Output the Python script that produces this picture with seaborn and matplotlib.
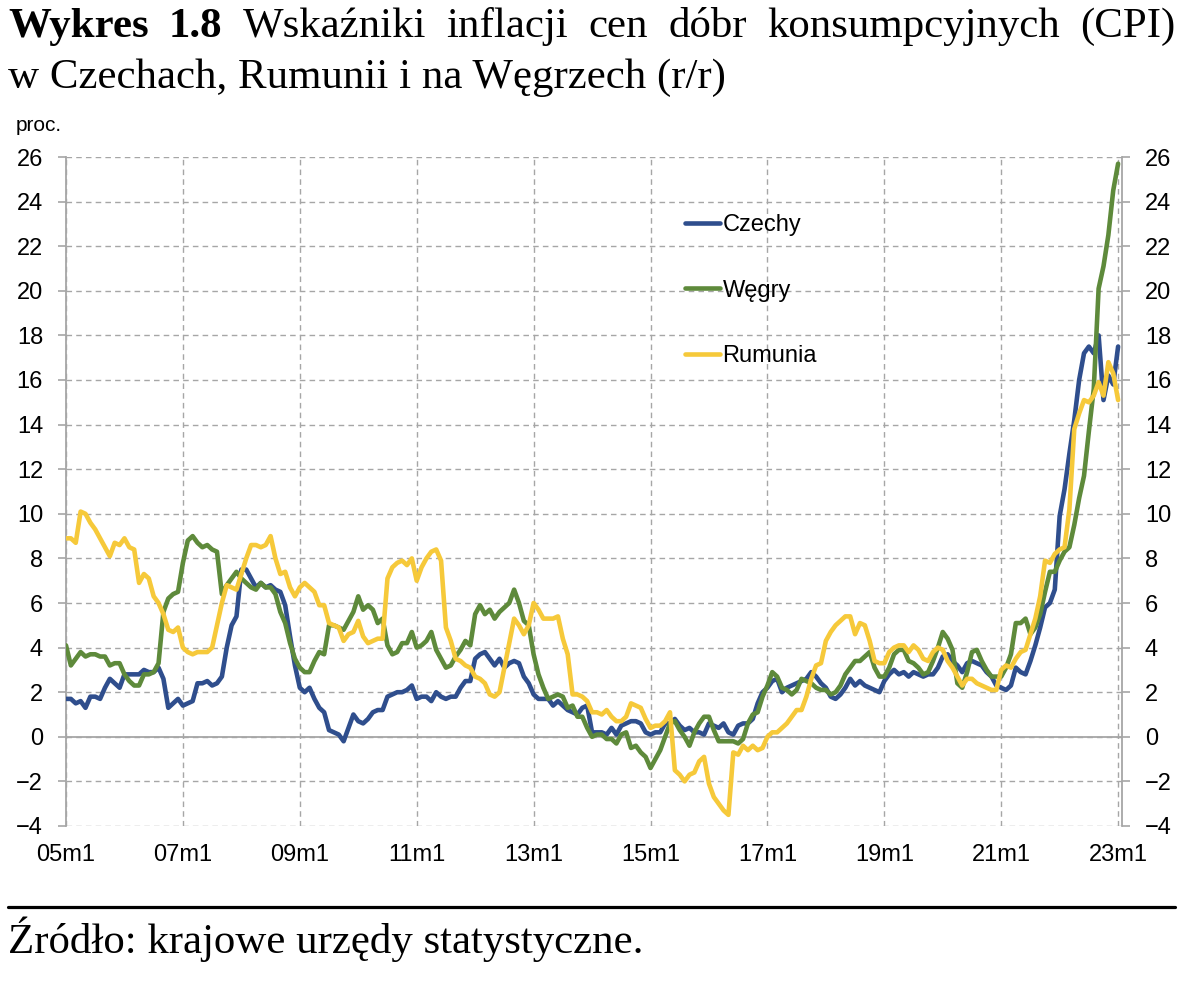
import numpy as np
import pandas as pd
import matplotlib
matplotlib.use("Agg")
import matplotlib.pyplot as plt
import seaborn as sns

# CPI r/r, monthly 2005m1 - 2023m1
czechy = [
    1.7, 1.7, 1.5, 1.6, 1.3, 1.8, 1.8, 1.7, 2.2, 2.6, 2.4, 2.2,        # 2005
    2.8, 2.8, 2.8, 2.8, 3.0, 2.9, 2.9, 3.1, 2.6, 1.3, 1.5, 1.7,        # 2006
    1.4, 1.5, 1.6, 2.4, 2.4, 2.5, 2.3, 2.4, 2.7, 4.0, 5.0, 5.4,        # 2007
    7.5, 7.5, 7.1, 6.7, 6.9, 6.7, 6.8, 6.6, 6.5, 5.9, 4.5, 3.2,        # 2008
    2.2, 2.0, 2.2, 1.7, 1.3, 1.1, 0.3, 0.2, 0.1, -0.2, 0.4, 1.0,       # 2009
    0.7, 0.6, 0.8, 1.1, 1.2, 1.2, 1.8, 1.9, 2.0, 2.0, 2.1, 2.3,        # 2010
    1.7, 1.8, 1.8, 1.6, 2.0, 1.8, 1.7, 1.8, 1.8, 2.2, 2.5, 2.5,        # 2011
    3.5, 3.7, 3.8, 3.5, 3.2, 3.5, 3.1, 3.3, 3.4, 3.3, 2.7, 2.4,        # 2012
    1.9, 1.7, 1.7, 1.7, 1.4, 1.6, 1.4, 1.2, 1.1, 1.0, 1.3, 1.4,        # 2013
    0.2, 0.2, 0.2, 0.1, 0.4, 0.1, 0.5, 0.6, 0.7, 0.7, 0.6, 0.2,        # 2014
    0.1, 0.2, 0.2, 0.6, 0.6, 0.8, 0.5, 0.3, 0.4, 0.2, 0.2, 0.1,        # 2015
    0.6, 0.5, 0.4, 0.6, 0.2, 0.1, 0.5, 0.6, 0.6, 0.8, 1.5, 2.0,        # 2016
    2.2, 2.5, 2.6, 2.0, 2.2, 2.3, 2.4, 2.5, 2.6, 2.9, 2.7, 2.4,        # 2017
    2.2, 1.8, 1.7, 1.9, 2.2, 2.6, 2.3, 2.5, 2.3, 2.2, 2.1, 2.0,        # 2018
    2.5, 2.8, 3.0, 2.8, 2.9, 2.7, 2.9, 2.8, 2.7, 2.8, 2.8, 3.1,        # 2019
    3.6, 3.7, 3.4, 3.2, 2.9, 3.3, 3.4, 3.3, 3.2, 2.9, 2.7, 2.3,        # 2020
    2.2, 2.1, 2.3, 3.1, 2.9, 2.8, 3.4, 4.1, 4.9, 5.8, 6.0, 6.6,        # 2021
    9.9, 11.1, 12.7, 14.2, 16.0, 17.2, 17.5, 17.2, 18.0, 15.1, 16.2, 15.8,  # 2022
    17.5,                                                               # 2023
]
wegry = [
    4.1, 3.2, 3.5, 3.8, 3.6, 3.7, 3.7, 3.6, 3.6, 3.2, 3.3, 3.3,
    2.8, 2.5, 2.3, 2.3, 2.8, 2.8, 2.9, 3.3, 5.6, 6.2, 6.4, 6.5,
    7.8, 8.8, 9.0, 8.7, 8.5, 8.6, 8.4, 8.3, 6.4, 6.8, 7.1, 7.4,
    7.1, 6.9, 6.7, 6.6, 6.9, 6.7, 6.7, 6.4, 5.6, 5.1, 4.2, 3.5,
    3.1, 2.9, 2.9, 3.4, 3.8, 3.7, 5.0, 5.0, 4.9, 4.8, 5.2, 5.6,
    6.3, 5.7, 5.9, 5.7, 5.1, 5.3, 4.1, 3.7, 3.8, 4.2, 4.2, 4.7,
    4.0, 4.1, 4.3, 4.7, 3.9, 3.5, 3.1, 3.2, 3.6, 3.9, 4.3, 4.1,
    5.5, 5.9, 5.5, 5.7, 5.3, 5.6, 5.8, 6.0, 6.6, 6.0, 5.2, 5.0,
    3.7, 2.8, 2.2, 1.7, 1.8, 1.9, 1.8, 1.3, 1.4, 0.9, 0.9, 0.4,
    0.0, 0.1, 0.1, -0.1, -0.1, -0.3, 0.1, 0.2, -0.5, -0.4, -0.7, -0.9,
    -1.4, -1.0, -0.6, 0.0, 0.6, 0.7, 0.3, 0.0, -0.4, 0.2, 0.6, 0.9,
    0.9, 0.3, -0.2, -0.2, -0.2, -0.2, -0.3, -0.1, 0.6, 1.0, 1.1, 1.8,
    2.3, 2.9, 2.7, 2.2, 2.1, 1.9, 2.1, 2.6, 2.5, 2.4, 2.2, 2.1,
    2.1, 1.9, 2.0, 2.3, 2.8, 3.1, 3.4, 3.4, 3.6, 3.8, 3.1, 2.7,
    2.7, 3.1, 3.7, 3.9, 3.9, 3.4, 3.3, 3.1, 2.8, 2.9, 3.4, 4.0,
    4.7, 4.4, 3.9, 2.4, 2.2, 2.9, 3.8, 3.9, 3.4, 3.0, 2.7, 2.7,
    2.7, 3.1, 3.7, 5.1, 5.1, 5.3, 4.6, 4.9, 5.5, 6.5, 7.4, 7.4,
    7.9, 8.3, 8.5, 9.5, 10.7, 11.7, 13.7, 15.6, 20.1, 21.1, 22.5, 24.5,
    25.7,
]
rumunia = [
    8.9, 8.9, 8.7, 10.1, 10.0, 9.6, 9.3, 8.9, 8.5, 8.1, 8.7, 8.6,
    8.9, 8.5, 8.4, 6.9, 7.3, 7.1, 6.3, 6.0, 5.5, 4.8, 4.7, 4.9,
    4.0, 3.8, 3.7, 3.8, 3.8, 3.8, 4.0, 5.0, 6.0, 6.8, 6.7, 6.6,
    7.3, 8.0, 8.6, 8.6, 8.5, 8.6, 9.0, 8.0, 7.3, 7.4, 6.7, 6.3,
    6.7, 6.9, 6.7, 6.5, 5.9, 5.9, 5.1, 5.0, 4.9, 4.3, 4.6, 4.7,
    5.2, 4.5, 4.2, 4.3, 4.4, 4.4, 7.1, 7.6, 7.8, 7.9, 7.7, 8.0,
    7.0, 7.6, 8.0, 8.3, 8.4, 7.9, 4.9, 4.3, 3.5, 3.4, 3.2, 3.1,
    2.7, 2.6, 2.4, 1.9, 1.8, 2.0, 3.1, 4.2, 5.3, 5.0, 4.6, 5.0,
    6.0, 5.7, 5.3, 5.3, 5.3, 5.4, 4.4, 3.7, 1.9, 1.9, 1.8, 1.6,
    1.1, 1.1, 1.0, 1.2, 0.9, 0.7, 0.7, 0.9, 1.5, 1.4, 1.3, 0.8,
    0.4, 0.5, 0.5, 0.7, 1.1, -1.5, -1.7, -2.0, -1.7, -1.6, -1.1, -0.9,
    -2.1, -2.7, -3.0, -3.3, -3.5, -0.7, -0.8, -0.4, -0.6, -0.4, -0.6, -0.5,
    0.0, 0.2, 0.2, 0.4, 0.6, 0.9, 1.2, 1.2, 1.8, 2.6, 3.2, 3.3,
    4.3, 4.7, 5.0, 5.2, 5.4, 5.4, 4.6, 5.1, 5.0, 4.3, 3.4, 3.3,
    3.3, 3.8, 4.0, 4.1, 4.1, 3.8, 4.1, 3.9, 3.5, 3.4, 3.8, 4.0,
    3.9, 3.4, 3.1, 2.7, 2.3, 2.6, 2.6, 2.4, 2.3, 2.2, 2.1, 2.1,
    3.0, 3.2, 3.1, 3.5, 3.8, 3.9, 4.6, 5.3, 6.3, 7.9, 7.8, 8.2,
    8.4, 8.5, 10.2, 13.8, 14.5, 15.1, 15.0, 15.3, 15.9, 15.3, 16.8, 16.3,
    15.1,
]

countries = ["Czechy", "Węgry", "Rumunia"]
colors = ["#2F4E8D", "#5E8A3B", "#F6C93A"]
x_labels = ["05m1", "07m1", "09m1", "11m1", "13m1", "15m1", "17m1", "19m1", "21m1", "23m1"]
y_ticks = list(range(-4, 27, 2))

n = len(czechy)
months = np.arange(n)
df = pd.DataFrame({
    "m": np.tile(months, 3),
    "val": czechy + wegry + rumunia,
    "kraj": np.repeat(countries, n),
})

sns.set_style("white")
plt.rcParams["font.family"] = ["Liberation Sans", "DejaVu Sans"]
plt.rcParams["text.color"] = "black"

W, H = 1200, 1007
fig = plt.figure(figsize=(W / 100, H / 100), dpi=100)
ax = fig.add_axes([66 / W, 1 - 826 / H, (1122 - 66) / W, (826 - 157) / H])

grey = "#A6A6A6"
sns.lineplot(data=df, x="m", y="val", hue="kraj", hue_order=countries,
             palette=colors, linewidth=3.3, estimator=None, ax=ax, zorder=3)

ax.set_xlim(0, 216.8)
ax.set_ylim(-4, 26)
ax.set_xticks(np.arange(0, 217, 24))
ax.set_xticklabels(x_labels)
ax.set_yticks(y_ticks)
ax.set_xlabel("")
ax.set_ylabel("")
ax.grid(True, ls=(0, (4, 3)), color=grey, lw=1)
ax.axhline(0, color=grey, lw=1.3, zorder=2)
for side in ["top", "bottom"]:
    ax.spines[side].set_visible(False)
for side in ["left", "right"]:
    ax.spines[side].set_color(grey)
    ax.spines[side].set_linewidth(1.3)
ax.tick_params(axis="y", which="both", left=True, right=True, labelleft=True,
               labelright=True, length=6, color=grey, width=1.2,
               pad=10.5, labelsize=17, labelcolor="black")
ax.tick_params(axis="x", length=0, pad=13, labelsize=17, labelcolor="black")

handles, labels = ax.get_legend_handles_labels()
ax.legend(handles, labels, loc="upper left", bbox_to_anchor=(0.586, 0.915),
          frameon=False, fontsize=17, handlelength=1.5, handletextpad=0.1,
          labelspacing=1.85, borderpad=0, borderaxespad=0)

fig.text(16 / W, 1 - 131 / H, "proc.", fontsize=15, va="baseline")

# title and source in a serif face
renderer = fig.canvas.get_renderer()
serif = ["Liberation Serif", "DejaVu Serif"]


def put(x, y, s, size, weight="normal"):
    return fig.text(x / W, 1 - y / H, s, fontsize=size, fontweight=weight,
                    family=serif, va="baseline", ha="left", color="black")


line2 = put(8, 88, "w Czechach, Rumunii i na Węgrzech (r/r)", 28)
w2 = line2.get_window_extent(renderer).width
size = 28 * 717 / w2
line2.set_fontsize(size)

words = [("Wykres", "bold"), ("1.8", "bold"), ("Wskaźniki", "normal"),
         ("inflacji", "normal"), ("cen", "normal"), ("dóbr", "normal"),
         ("konsumpcyjnych", "normal"), ("(CPI)", "normal")]
objs = [put(0, 37, w, size, wt) for w, wt in words]
widths = [o.get_window_extent(renderer).width for o in objs]
gap = (1175 - 8 - sum(widths)) / (len(words) - 1)
x = 8
for o, w in zip(objs, widths):
    o.set_x(x / W)
    x += w + gap

fig.add_artist(plt.Line2D([8 / W, 1175 / W], [1 - 907 / H, 1 - 907 / H],
                          color="black", lw=2.3, transform=fig.transFigure))
put(8, 953, "Źródło: krajowe urzędy statystyczne.", size)

fig.savefig("out.png", dpi=100)
